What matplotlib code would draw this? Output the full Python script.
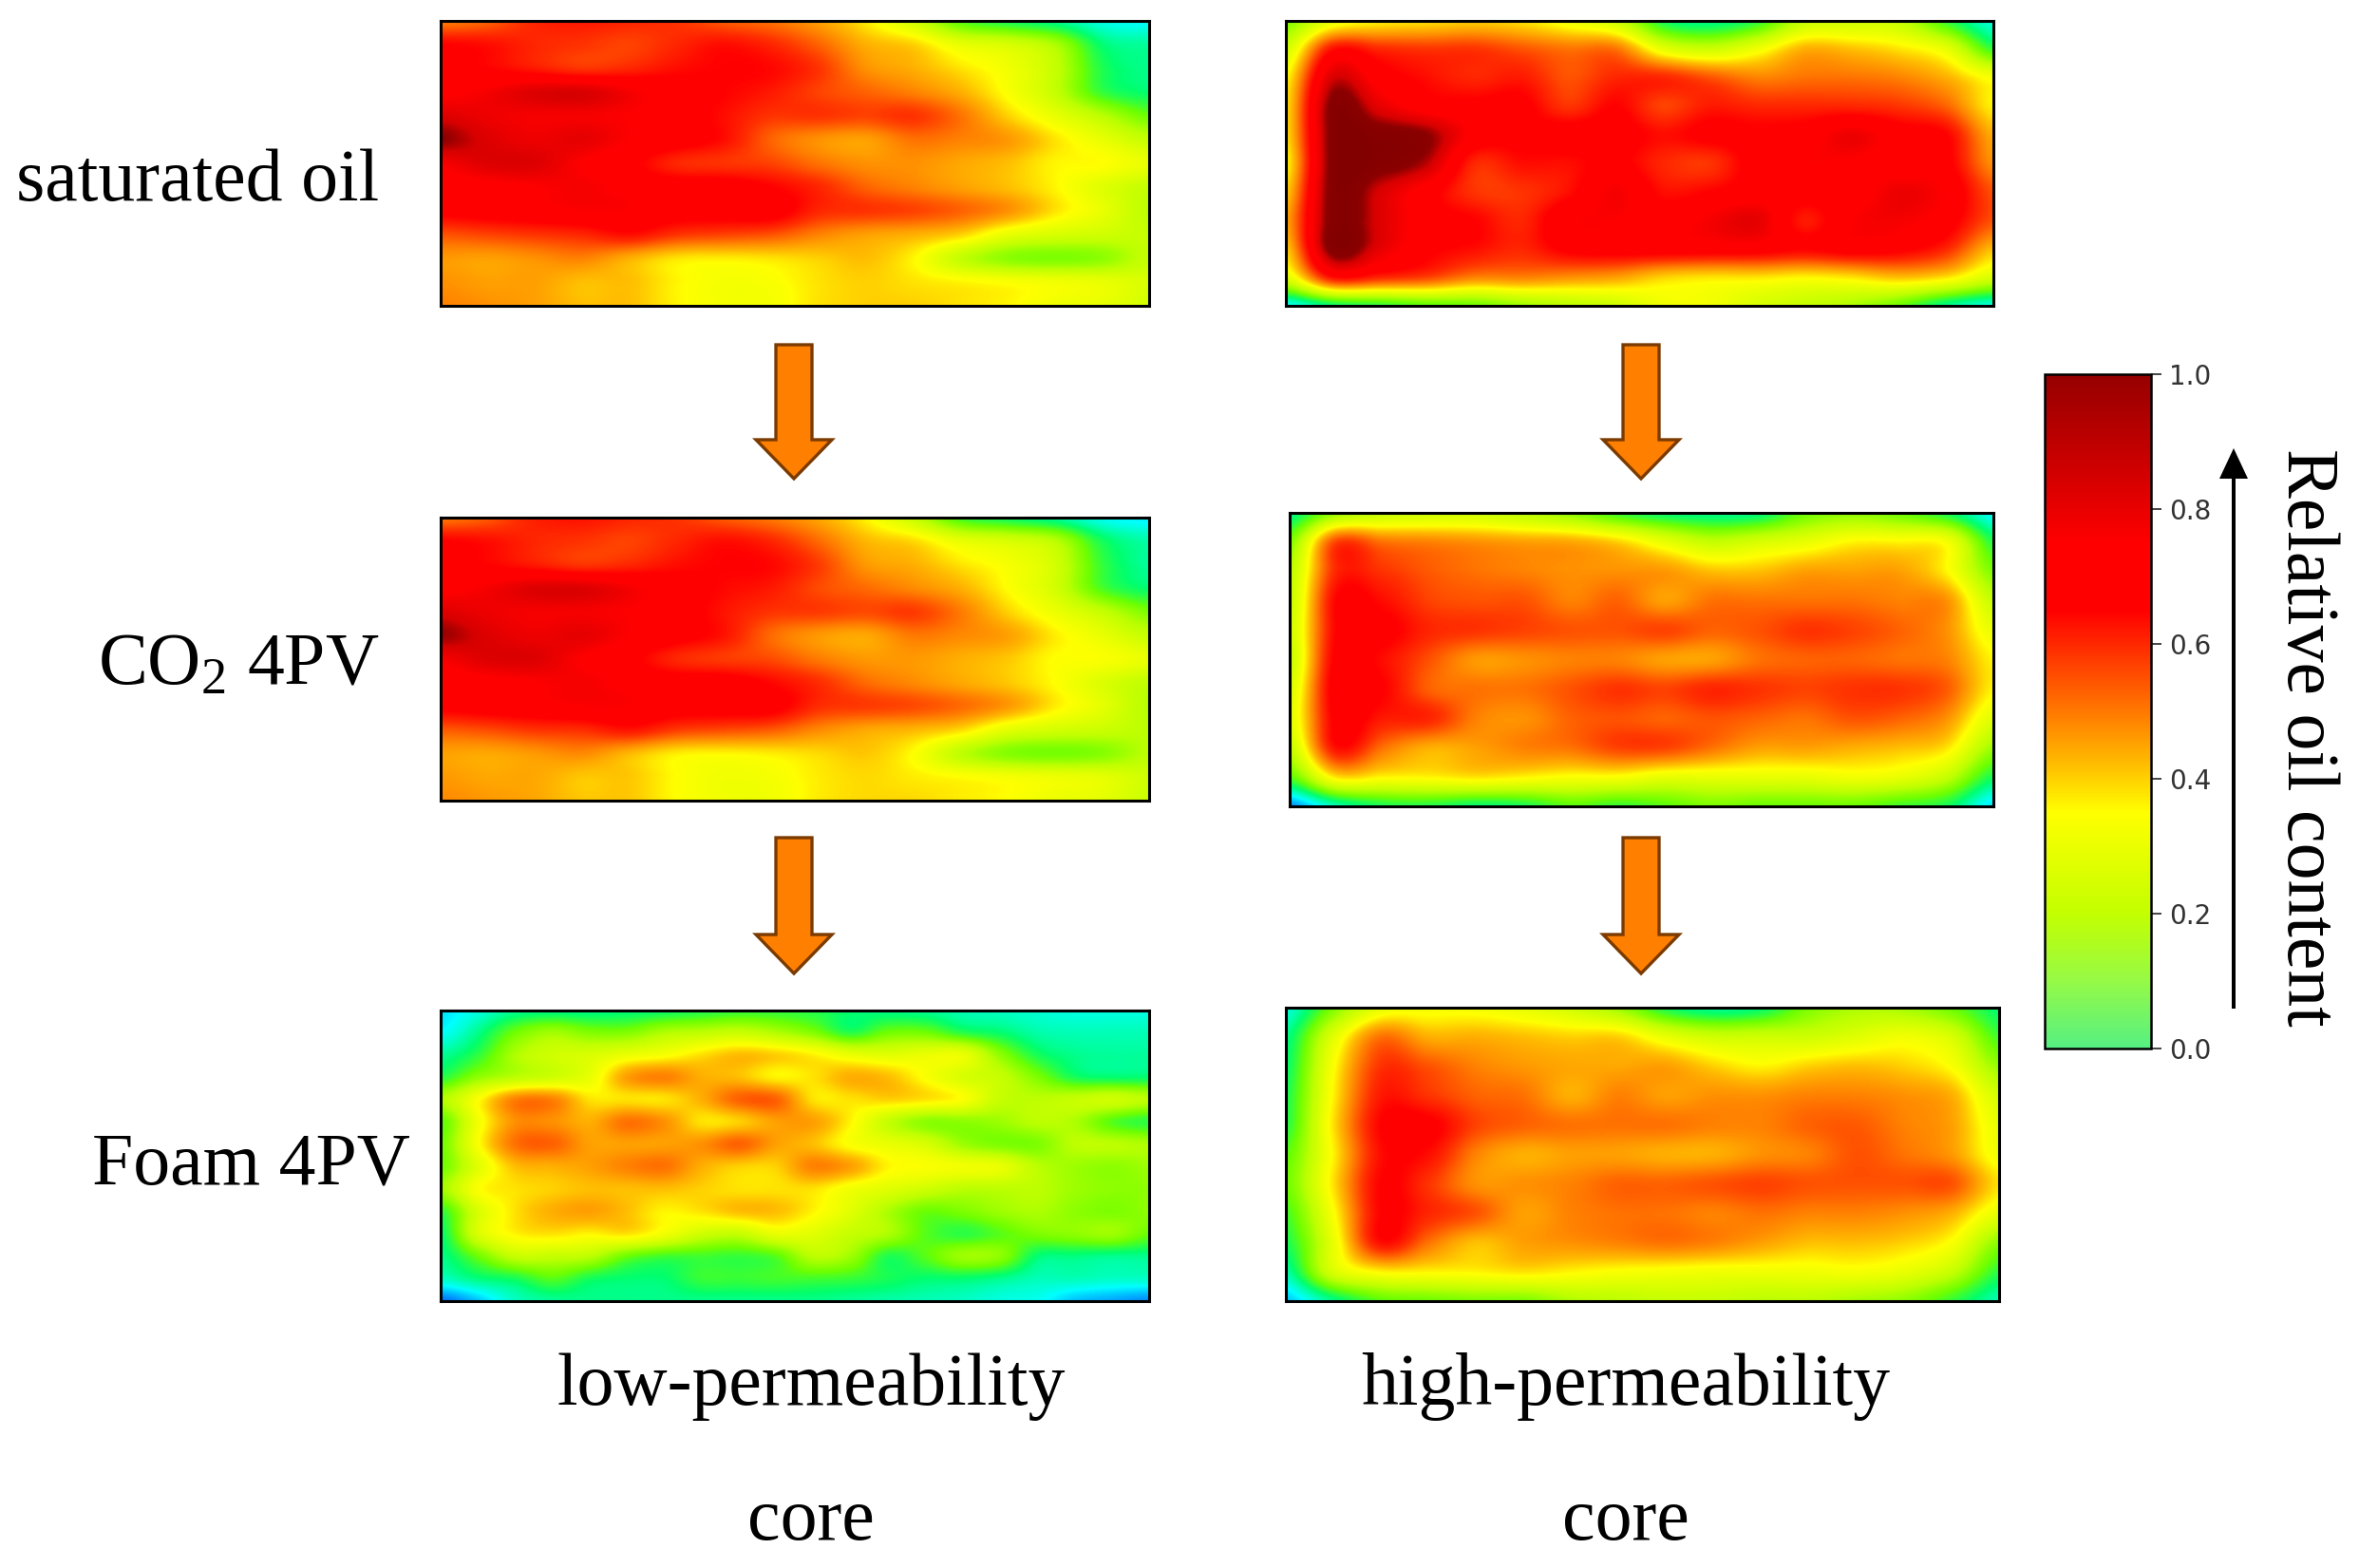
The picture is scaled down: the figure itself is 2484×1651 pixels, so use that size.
import numpy as np
import matplotlib
matplotlib.use("Agg")
import matplotlib.pyplot as plt
from matplotlib.cm import ScalarMappable
from matplotlib.colors import LinearSegmentedColormap, Normalize
from matplotlib.patches import FancyArrow

W, H = 2484, 1651

# relative oil content (top row first, left to right)
sat_low = [
	[.50,.54,.62,.64,.62,.60,.55,.52,.46,.37,.25,.08,.02,-.02,-.08,-.10],
	[.68,.66,.62,.60,.58,.62,.66,.62,.54,.44,.40,.30,.26,.18,.00,-.03],
	[.70,.68,.64,.60,.62,.66,.68,.67,.60,.48,.44,.38,.32,.22,.03,-.02],
	[.74,.78,.84,.85,.78,.72,.68,.64,.58,.54,.50,.44,.34,.22,.05,.00],
	[.84,.80,.78,.78,.76,.72,.66,.60,.60,.58,.60,.52,.40,.30,.20,.10],
	[.92,.84,.80,.82,.76,.72,.66,.54,.48,.46,.52,.50,.47,.38,.30,.22],
	[.78,.84,.84,.76,.70,.62,.60,.58,.52,.48,.48,.45,.42,.36,.35,.30],
	[.72,.74,.76,.78,.74,.72,.72,.68,.62,.54,.50,.46,.42,.36,.28,.22],
	[.70,.72,.74,.76,.76,.72,.72,.72,.62,.60,.58,.54,.48,.38,.30,.20],
	[.56,.58,.60,.62,.66,.60,.58,.56,.50,.46,.44,.40,.30,.26,.24,.22],
	[.47,.46,.48,.50,.44,.38,.37,.38,.40,.42,.36,.22,.14,.12,.14,.22],
	[.48,.46,.46,.42,.42,.36,.33,.34,.38,.40,.38,.36,.34,.32,.30,.26],
	[.50,.48,.46,.42,.42,.36,.33,.33,.38,.40,.40,.38,.36,.32,.30,.25],
]
co2_low = [
	[.51,.55,.63,.65,.62,.60,.55,.51,.45,.36,.23,.06,.01,-.03,-.09,-.11],
	[.68,.66,.62,.60,.58,.62,.66,.62,.53,.43,.39,.30,.26,.20,.02,-.04],
	[.70,.68,.64,.60,.62,.66,.68,.67,.59,.47,.44,.38,.33,.25,.05,-.03],
	[.74,.78,.84,.84,.78,.72,.67,.64,.57,.53,.49,.44,.35,.25,.07,.00],
	[.84,.80,.78,.78,.76,.72,.65,.60,.59,.57,.59,.51,.40,.31,.22,.12],
	[.91,.84,.80,.82,.76,.71,.65,.53,.47,.45,.51,.49,.46,.37,.30,.22],
	[.78,.84,.84,.76,.70,.62,.59,.57,.51,.47,.47,.44,.41,.35,.34,.30],
	[.72,.74,.76,.78,.74,.72,.72,.67,.61,.53,.49,.45,.41,.35,.27,.21],
	[.70,.72,.74,.76,.76,.72,.72,.71,.61,.59,.57,.53,.47,.37,.29,.19],
	[.55,.57,.60,.61,.65,.59,.57,.55,.49,.45,.43,.39,.29,.25,.23,.20],
	[.46,.45,.47,.49,.43,.37,.36,.37,.39,.41,.35,.21,.13,.11,.13,.20],
	[.47,.45,.45,.41,.41,.35,.32,.33,.37,.39,.37,.35,.33,.31,.29,.24],
	[.49,.47,.45,.41,.41,.35,.32,.32,.37,.39,.39,.37,.35,.31,.29,.23],
]
foam_low = [
	[-.12,-.08,-.03,-.02,-.02,-.01,.00,.02,.04,.04,.03,.00,-.02,-.03,-.05,-.06,-.07,-.08,-.08,-.08],
	[-.10,-.02,.10,.16,.12,.12,.18,.20,.22,.18,.12,.03,.10,.10,.03,.00,-.04,-.05,-.05,-.05],
	[-.03,.04,.18,.24,.26,.30,.33,.38,.42,.40,.36,.30,.28,.30,.30,.14,.02,-.02,-.03,-.03],
	[.03,.14,.20,.24,.30,.46,.50,.44,.42,.36,.38,.44,.42,.34,.26,.22,.12,.02,.00,.00],
	[.18,.34,.50,.50,.38,.38,.38,.44,.54,.54,.38,.38,.40,.38,.34,.22,.20,.22,.24,.20],
	[.08,.32,.48,.48,.44,.52,.48,.38,.40,.46,.46,.36,.22,.14,.14,.16,.20,.18,.08,.04],
	[.10,.34,.52,.54,.46,.46,.46,.48,.54,.46,.42,.34,.30,.26,.16,.12,.12,.20,.20,.18],
	[.10,.28,.42,.44,.46,.50,.52,.44,.40,.40,.50,.46,.36,.34,.32,.30,.20,.16,.14,.16],
	[.16,.34,.38,.40,.42,.42,.42,.40,.38,.38,.38,.32,.28,.24,.20,.20,.20,.16,.14,.14],
	[.04,.26,.38,.44,.46,.42,.36,.38,.42,.42,.36,.28,.18,.10,.12,.16,.18,.14,.12,.14],
	[.00,.26,.36,.38,.36,.38,.32,.24,.22,.30,.28,.22,.18,.08,.04,.08,.12,.14,.16,.10],
	[-.02,.10,.22,.22,.20,.10,.06,.06,.05,.08,.20,.16,.03,.08,.16,.14,.00,-.01,-.02,-.02],
	[-.06,-.01,.02,.08,.02,.00,.00,.05,.05,.06,.06,.05,.02,.00,.00,-.02,-.05,-.05,-.06,-.06],
	[-.20,-.14,-.06,-.03,-.02,-.02,-.02,-.02,-.02,-.02,-.02,-.03,-.04,-.05,-.06,-.08,-.09,-.14,-.16,-.18],
]
sat_high = [
	[.12,.30,.36,.38,.40,.38,.32,.24,.02,-.02,.04,.22,.24,.22,.05,-.08],
	[.25,.66,.62,.60,.60,.56,.52,.52,.30,.24,.32,.44,.42,.38,.30,.05],
	[.35,.85,.72,.66,.62,.64,.56,.62,.62,.56,.50,.52,.52,.50,.44,.33],
	[.38,.95,.82,.72,.70,.70,.60,.68,.58,.64,.62,.62,.62,.60,.54,.36],
	[.38,.96,.96,.92,.74,.70,.72,.72,.66,.70,.70,.72,.80,.72,.68,.44],
	[.35,.96,.96,.88,.62,.66,.66,.70,.62,.60,.72,.76,.75,.72,.70,.48],
	[.40,.96,.85,.72,.60,.60,.66,.78,.66,.68,.72,.72,.72,.80,.75,.56],
	[.45,.96,.84,.72,.68,.62,.75,.76,.72,.78,.82,.64,.76,.78,.72,.56],
	[.40,.96,.82,.70,.66,.62,.70,.72,.72,.72,.72,.68,.72,.70,.62,.42],
	[.28,.66,.62,.58,.50,.50,.48,.46,.40,.38,.38,.36,.38,.42,.38,.26],
	[-.10,.00,.04,.08,.10,.16,.20,.24,.32,.32,.26,.22,.18,.10,-.02,-.08],
]
co2_high = [
	[-.02,.15,.22,.24,.24,.20,.14,.05,.00,-.02,-.01,.10,.14,.10,.02,-.10],
	[.12,.58,.52,.50,.48,.46,.45,.40,.30,.22,.26,.30,.36,.36,.33,.03],
	[.20,.62,.60,.55,.52,.50,.48,.48,.47,.42,.42,.46,.46,.46,.36,.12],
	[.22,.68,.66,.58,.56,.56,.50,.54,.46,.52,.52,.52,.52,.50,.48,.22],
	[.24,.68,.70,.62,.60,.58,.56,.56,.58,.54,.56,.60,.58,.54,.48,.30],
	[.22,.70,.66,.56,.47,.48,.50,.50,.46,.46,.52,.54,.54,.52,.50,.36],
	[.26,.72,.68,.54,.52,.52,.56,.60,.58,.62,.60,.58,.60,.60,.55,.36],
	[.28,.70,.64,.62,.50,.48,.54,.56,.54,.56,.54,.52,.56,.54,.48,.28],
	[.22,.66,.52,.44,.46,.50,.52,.58,.58,.52,.46,.46,.44,.42,.38,.16],
	[.08,.38,.36,.36,.38,.36,.34,.34,.30,.30,.30,.30,.32,.30,.22,.02],
	[-.18,-.05,.02,.03,.00,.02,.08,.05,.08,.12,.10,.10,.10,.06,.02,-.12],
]
foam_high = [
	[-.08,.12,.30,.33,.33,.30,.25,.16,.02,-.03,.00,.12,.18,.17,.10,.00],
	[-.02,.28,.52,.44,.44,.42,.40,.40,.30,.24,.24,.24,.28,.32,.26,.06],
	[.00,.34,.60,.56,.50,.47,.45,.45,.46,.40,.36,.40,.42,.40,.34,.15],
	[.02,.36,.64,.60,.54,.52,.44,.50,.46,.48,.48,.50,.50,.48,.44,.25],
	[.03,.38,.68,.70,.58,.54,.52,.52,.52,.50,.50,.54,.55,.50,.46,.30],
	[.08,.36,.66,.66,.50,.44,.46,.46,.44,.44,.48,.50,.56,.52,.47,.32],
	[.10,.38,.68,.60,.48,.48,.50,.54,.54,.56,.58,.56,.56,.56,.56,.38],
	[.06,.34,.68,.62,.56,.46,.50,.52,.52,.50,.52,.50,.50,.48,.44,.30],
	[.02,.30,.66,.52,.42,.46,.48,.50,.52,.50,.46,.42,.42,.40,.34,.14],
	[-.04,.26,.36,.36,.36,.38,.36,.34,.33,.32,.32,.32,.33,.30,.22,.04],
	[-.14,-.02,.08,.10,.12,.12,.18,.20,.22,.22,.20,.20,.17,.14,.05,-.05],
]

row_labels = ["saturated oil", "CO$_2$ 4PV", "Foam 4PV"]
col_labels = [("low-permeability", "core"), ("high-permeability", "core")]
bar_ticks = [0.0, 0.2, 0.4, 0.6, 0.8, 1.0]
bar_title = "Relative oil content"

plt.rcParams["font.family"] = ["Liberation Serif", "DejaVu Serif"]
plt.rcParams["mathtext.fontset"] = "custom"
plt.rcParams["mathtext.rm"] = "Liberation Serif"
plt.rcParams["mathtext.default"] = "regular"


def make_cmap(stops, vmin, vmax):
	"""Colormap from (value, rgb) stops given in data units."""
	items = [((v - vmin) / (vmax - vmin), np.array(c) / 255) for v, c in stops]
	return LinearSegmentedColormap.from_list("oil", items, N=512)


panel_cmap = make_cmap([(-.2, (0, 110, 255)), (-.1, (0, 255, 255)), (0, (0, 255, 110)),
	(.1, (110, 255, 0)), (.20, (190, 255, 0)), (.35, (255, 255, 0)), (.42, (255, 190, 0)),
	(.50, (255, 130, 0)), (.60, (255, 50, 0)), (.68, (255, 0, 0)), (.76, (255, 0, 0)),
	(.86, (215, 0, 0)), (.92, (140, 0, 0)), (1.0, (130, 0, 0))], -.2, 1)
bar_cmap = make_cmap([(0, (85, 240, 130)), (.1, (150, 250, 70)), (.2, (195, 255, 0)),
	(.35, (255, 255, 0)), (.42, (255, 190, 0)), (.5, (255, 120, 0)), (.6, (255, 40, 0)),
	(.65, (255, 0, 0)), (.75, (255, 0, 0)), (.9, (190, 0, 0)), (1, (150, 0, 0))], 0, 1)

fig = plt.figure(figsize=(W / 100, H / 100), dpi=100)


def px_axes(x0, y0, x1, y1):
	"""Axes placed with pixel box, y counted from the top."""
	return fig.add_axes([x0 / W, 1 - y1 / H, (x1 - x0) / W, (y1 - y0) / H])


def panel(values, box):
	grid = np.array(values)
	ax = px_axes(*box)
	# catrom goes through the samples, agg's bicubic blurs them
	ax.imshow(grid, cmap=panel_cmap, vmin=-.2, vmax=1, aspect="auto", interpolation="catrom")
	# first and last samples sit on the frame
	ax.set_xlim(0, grid.shape[1] - 1)
	ax.set_ylim(grid.shape[0] - 1, 0)
	ax.set_xticks([])
	ax.set_yticks([])
	for s in ax.spines.values():
		s.set_linewidth(2.2)


panel(sat_low, (464, 22, 1210, 322))
panel(sat_high, (1354, 22, 2099, 322))
panel(co2_low, (464, 545, 1210, 843))
panel(co2_high, (1358, 540, 2099, 849))
panel(foam_low, (464, 1064, 1210, 1370))
panel(foam_high, (1354, 1061, 2105, 1370))

# colour bar
cax = px_axes(2153, 394, 2265, 1104)
cb = fig.colorbar(ScalarMappable(Normalize(0, 1), bar_cmap), cax=cax)
cb.set_ticks(bar_ticks)
cb.ax.tick_params(labelsize=20, length=8, width=1.4, color="#444444", labelcolor="#333333", pad=6)
for t in cb.ax.get_yticklabels():
	t.set_family("DejaVu Sans")
cb.outline.set_linewidth(1.8)

# overlay in pixel coordinates for arrows and labels
over = fig.add_axes([0, 0, 1, 1], facecolor="none")
over.set_xlim(0, W)
over.set_ylim(H, 0)
over.axis("off")

for cx in (836, 1728):
	for y0, y1 in ((363, 504), (882, 1025)):
		over.add_patch(FancyArrow(cx, y0, 0, y1 - y0, width=38, head_width=80, head_length=41,
			length_includes_head=True, facecolor="#ff8000", edgecolor="#7a3a00", linewidth=2.4))

over.add_patch(FancyArrow(2352, 1062, 0, 472 - 1062, width=4, head_width=30, head_length=32,
	length_includes_head=True, facecolor="black", edgecolor="black", linewidth=0))

label_size = 56
over.text(399, 192, row_labels[0], ha="right", va="center", fontsize=label_size)
over.text(399, 701, row_labels[1], ha="right", va="center", fontsize=label_size)
over.text(432, 1228, row_labels[2], ha="right", va="center", fontsize=label_size)
for cx, (top, bottom) in zip((854, 1712), col_labels):
	over.text(cx, 1460, top, ha="center", va="center", fontsize=label_size)
	over.text(cx, 1602, bottom, ha="center", va="center", fontsize=label_size)
over.text(2428, 776, bar_title, rotation=270, ha="center", va="center", fontsize=56)

fig.savefig("out.png", dpi=100)
